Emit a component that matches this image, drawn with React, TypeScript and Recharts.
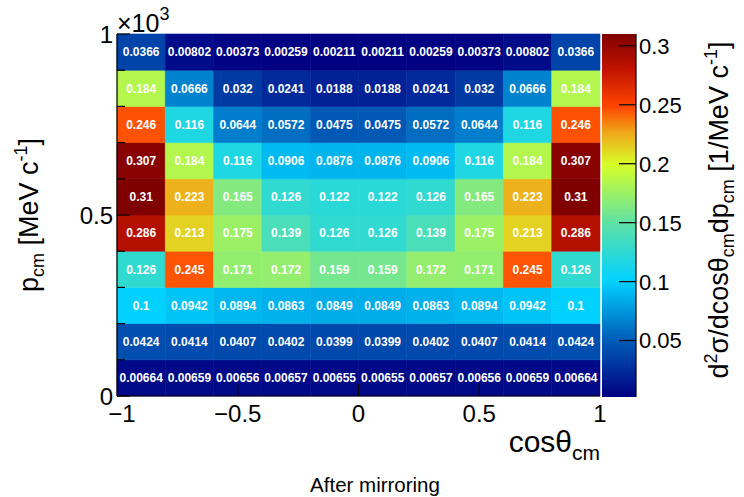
import React from 'react';
import { ScatterChart, Scatter, XAxis, YAxis, ReferenceArea, ReferenceLine } from 'recharts';

// ---- data ----
const cosThetaEdges = [-1, -0.8, -0.6, -0.4, -0.2, 0, 0.2, 0.4, 0.6, 0.8, 1];
const pEdges = [0, 100, 200, 300, 400, 500, 600, 700, 800, 900, 1000];
const xTicks = [-1, -0.5, 0, 0.5, 1];
const yTicks = [0, 500, 1000];
const yMinorTicks = [100, 200, 300, 400, 600, 700, 800, 900];
const xMajorMarks = [-0.5, 0, 0.5];
const zTicks = [0.05, 0.1, 0.15, 0.2, 0.25, 0.3];

// rows from low p (bottom) to high p (top)
const p0to100 = [0.00664, 0.00659, 0.00656, 0.00657, 0.00655, 0.00655, 0.00657, 0.00656, 0.00659, 0.00664];
const p100to200 = [0.0424, 0.0414, 0.0407, 0.0402, 0.0399, 0.0399, 0.0402, 0.0407, 0.0414, 0.0424];
const p200to300 = [0.1, 0.0942, 0.0894, 0.0863, 0.0849, 0.0849, 0.0863, 0.0894, 0.0942, 0.1];
const p300to400 = [0.126, 0.245, 0.171, 0.172, 0.159, 0.159, 0.172, 0.171, 0.245, 0.126];
const p400to500 = [0.286, 0.213, 0.175, 0.139, 0.126, 0.126, 0.139, 0.175, 0.213, 0.286];
const p500to600 = [0.31, 0.223, 0.165, 0.126, 0.122, 0.122, 0.126, 0.165, 0.223, 0.31];
const p600to700 = [0.307, 0.184, 0.116, 0.0906, 0.0876, 0.0876, 0.0906, 0.116, 0.184, 0.307];
const p700to800 = [0.246, 0.116, 0.0644, 0.0572, 0.0475, 0.0475, 0.0572, 0.0644, 0.116, 0.246];
const p800to900 = [0.184, 0.0666, 0.032, 0.0241, 0.0188, 0.0188, 0.0241, 0.032, 0.0666, 0.184];
const p900to1000 = [0.0366, 0.00802, 0.00373, 0.00259, 0.00211, 0.00211, 0.00259, 0.00373, 0.00802, 0.0366];

const rows = [p0to100, p100to200, p200to300, p300to400, p400to500, p500to600, p600to700, p700to800, p800to900, p900to1000];

// ---- style ----
const FONT = '"Liberation Sans", Arial, Helvetica, sans-serif';
const STOPS: [number, number[]][] = [
  [0, [0, 0, 130]],
  [0.16, [0, 95, 185]],
  [0.32, [0, 210, 255]],
  [0.48, [95, 225, 165]],
  [0.64, [215, 255, 40]],
  [0.73, [240, 165, 25]],
  [0.8, [255, 70, 0]],
  [0.9, [195, 20, 0]],
  [1, [128, 0, 0]],
];

const allValues = rows.flat();
const zMin = Math.min(...allValues);
const zMax = Math.max(...allValues);

function colorAt(t: number): string {
  const tt = Math.max(0, Math.min(1, t));
  for (let i = 1; i < STOPS.length; i++) {
    const [t1, c1] = STOPS[i];
    const [t0, c0] = STOPS[i - 1];
    if (tt <= t1) {
      const f = (tt - t0) / (t1 - t0);
      const c = c0.map((v, k) => Math.round(v + (c1[k] - v) * f));
      return `rgb(${c[0]},${c[1]},${c[2]})`;
    }
  }
  const c = STOPS[STOPS.length - 1][1];
  return `rgb(${c[0]},${c[1]},${c[2]})`;
}
const colorFor = (v: number) => colorAt((v - zMin) / (zMax - zMin));

const cells = rows.flatMap((row, i) =>
  row.map((v, j) => ({
    x1: cosThetaEdges[j],
    x2: cosThetaEdges[j + 1],
    y1: pEdges[i],
    y2: pEdges[i + 1],
    x: (cosThetaEdges[j] + cosThetaEdges[j + 1]) / 2,
    y: (pEdges[i] + pEdges[i + 1]) / 2,
    v,
  }))
);

const fmtX = (v: number) => (v < 0 ? '\u2212' + Math.abs(v) : String(v));

const XTick = (props: any) => {
  const { x, y, payload } = props;
  const v = payload.value;
  return (
    <text x={x} y={y} dy="0.71em" dx={v === -1 ? 5 : 0} textAnchor="middle" fontSize={24} fill="#000" fontFamily={FONT}>
      {fmtX(v)}
    </text>
  );
};

const YTick = (props: any) => {
  const { x, y, payload } = props;
  return (
    <text x={x} y={y} dy="0.355em" textAnchor="end" fontSize={24} fill="#000" fontFamily={FONT}>
      {String(payload.value / 1000)}
    </text>
  );
};

const CellLabel = (props: any) => {
  const { cx, cy, payload } = props;
  return (
    <text x={cx} y={cy} dy="0.36em" textAnchor="middle" fontSize={12} fontWeight="bold" fill="#fff" fontFamily={FONT}>
      {String(payload.v)}
    </text>
  );
};

// colour bar geometry
const CB_X = 602;
const CB_W = 34;
const CB_TOP = 34;
const CB_BOTTOM = 397;
const zToY = (z: number) => CB_BOTTOM - ((z - zMin) / (zMax - zMin)) * (CB_BOTTOM - CB_TOP);

export default function App() {
  return (
    <div style={{ position: 'absolute', left: 0, top: 0, width: 744, height: 497, background: '#fff' }}>
      <ScatterChart width={744} height={497} margin={{ top: 34, right: 144, bottom: 71, left: 0 }}>
        <XAxis
          type="number"
          dataKey="x"
          domain={[-1, 1]}
          ticks={xTicks}
          interval={0}
          tickLine={false}
          tickSize={6}
          tickMargin={3}
          height={30}
          axisLine={{ stroke: '#000', strokeWidth: 1.2 }}
          tick={<XTick />}
          allowDataOverflow
        />
        <YAxis
          type="number"
          dataKey="y"
          domain={[0, 1000]}
          ticks={yTicks}
          interval={0}
          tickLine={false}
          tickSize={2}
          tickMargin={2}
          width={117}
          axisLine={{ stroke: '#000', strokeWidth: 1.2 }}
          tick={<YTick />}
          allowDataOverflow
        />
        {cells.map((c, k) => (
          <ReferenceArea
            key={'c' + k}
            x1={c.x1}
            x2={c.x2}
            y1={c.y1}
            y2={c.y2}
            fill={colorFor(c.v)}
            fillOpacity={1}
            stroke={colorFor(c.v)}
            strokeWidth={0.6}
            ifOverflow="visible"
          />
        ))}
        {yMinorTicks.map((t) => (
          <ReferenceLine key={'ym' + t} segment={[{ x: -1, y: t }, { x: -0.967, y: t }]} stroke="#000" strokeWidth={1.2} ifOverflow="visible" />
        ))}
        {yTicks.map((t) => (
          <ReferenceLine key={'yM' + t} segment={[{ x: -1, y: t }, { x: -0.946, y: t }]} stroke="#000" strokeWidth={1.2} ifOverflow="visible" />
        ))}
        {xMajorMarks.map((t) => (
          <ReferenceLine key={'xM' + t} segment={[{ x: t, y: 0 }, { x: t, y: 33 }]} stroke="#000" strokeWidth={1.2} ifOverflow="visible" />
        ))}
        <Scatter data={cells} isAnimationActive={false} shape={<CellLabel />} />
      </ScatterChart>

      <svg width={744} height={497} style={{ position: 'absolute', left: 0, top: 0, pointerEvents: 'none' }}>
        <defs>
          <linearGradient id="zgrad" x1="0" y1="1" x2="0" y2="0">
            {STOPS.map(([t, c]) => (
              <stop key={t} offset={t} stopColor={`rgb(${c[0]},${c[1]},${c[2]})`} />
            ))}
          </linearGradient>
        </defs>
        {/* colour bar */}
        <rect x={CB_X} y={CB_TOP} width={CB_W} height={CB_BOTTOM - CB_TOP} fill="url(#zgrad)" />
        <line x1={CB_X + CB_W} y1={CB_TOP} x2={CB_X + CB_W} y2={CB_BOTTOM} stroke="#000" strokeWidth={1.2} />
        {zTicks.map((z) => (
          <g key={z}>
            <line x1={CB_X + CB_W - 17} x2={CB_X + CB_W} y1={zToY(z)} y2={zToY(z)} stroke="#111" strokeWidth={1.3} />
            <text x={CB_X + CB_W + 3} y={zToY(z)} dy="0.36em" fontSize={22} fill="#000" fontFamily={FONT}>
              {String(z)}
            </text>
          </g>
        ))}
        {/* colour bar title */}
        <text transform="translate(728,210) rotate(-90)" textAnchor="middle" fontSize={27} fill="#000" fontFamily={FONT}>
          d<tspan fontSize={18} dy={-11}>2</tspan>
          <tspan dy={11}>σ/dcosθ</tspan>
          <tspan fontSize={18} dy={6}>cm</tspan>
          <tspan dy={-6}>dp</tspan>
          <tspan fontSize={18} dy={6}>cm</tspan>
          <tspan dy={-6}> [1/MeV c</tspan>
          <tspan fontSize={18} dy={-11}>-1</tspan>
          <tspan dy={11}>]</tspan>
        </text>
        {/* y title */}
        <text transform="translate(38,215) rotate(-90)" textAnchor="middle" fontSize={27} fill="#000" fontFamily={FONT}>
          p<tspan fontSize={18} dy={6}>cm</tspan>
          <tspan dy={-6}> [MeV c</tspan>
          <tspan fontSize={18} dy={-11}>-1</tspan>
          <tspan dy={11}>]</tspan>
        </text>
        {/* x title */}
        <text x={600} y={452} textAnchor="end" fontSize={30} fill="#000" fontFamily={FONT}>
          cosθ<tspan fontSize={21} dy={8}>cm</tspan>
        </text>
        {/* exponent */}
        <text x={117} y={32} fontSize={25} fill="#000" fontFamily={FONT}>
          ×10<tspan fontSize={18} dy={-12}>3</tspan>
        </text>
        {/* subtitle */}
        <text x={375} y={492} textAnchor="middle" fontSize={20.5} fill="#000" fontFamily={FONT}>
          After mirroring
        </text>
      </svg>
    </div>
  );
}
